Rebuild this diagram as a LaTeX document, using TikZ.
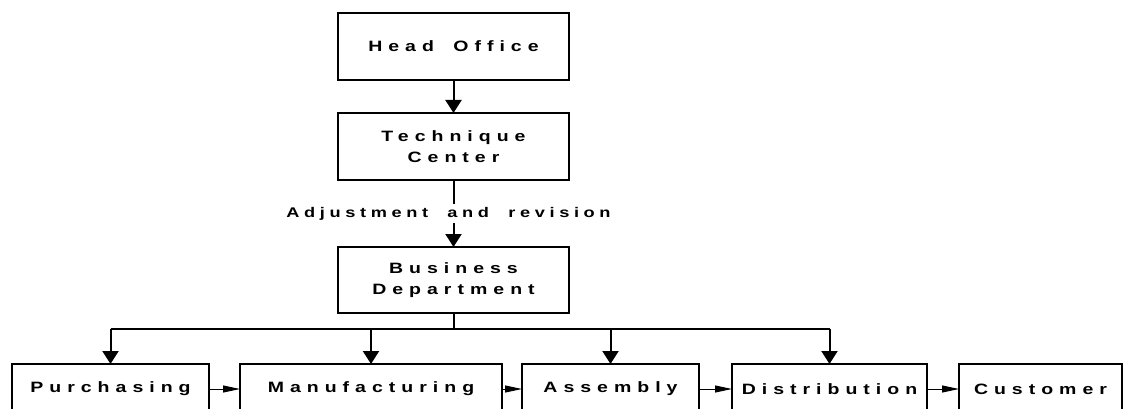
\documentclass[tikz,border=0pt]{standalone}
\usepackage{fontspec}
\setmainfont{Liberation Sans}
\newfontfamily\spfont{Liberation Sans}[FakeStretch=1.3, LetterSpace=40, WordSpace=1.7]
\newfontfamily\lblfont{Liberation Sans}[FakeStretch=1.3, LetterSpace=33, WordSpace=2]
\usetikzlibrary{arrows.meta}
\begin{document}
\begin{tikzpicture}[x=1pt,y=-1pt,
  orgbox/.style={draw, line width=1.5pt, outer sep=0pt, inner sep=0pt,
    minimum width=#1, align=center,
    font=\spfont\bfseries\fontsize{15}{20.5}\selectfont},
  thickside/.style={line width=2.6pt},
  conn/.style={line width=2pt},
  downarrow/.style={conn, -{Triangle[width=16pt,length=13pt]}},
  flowarrow/.style={line width=1pt, -{Triangle[width=7pt,length=17pt]}},
  lbl/.style={fill=white, inner sep=3pt, font=\lblfont\bfseries\fontsize{14}{16}\selectfont}
]
\useasboundingbox (0,0) rectangle (1124,409);
\clip (0,0) rectangle (1124,409);

% top column
\node[orgbox=231pt, minimum height=67pt] (ho) at (453.5,46.5) {Head Office};
\node[orgbox=231pt, minimum height=67pt] (tc) at (453.5,146.5) {Technique\\Center};
\node[orgbox=231pt, minimum height=66pt] (bd) at (453.5,280) {Business\\Department};

% bottom row
\node[orgbox=197pt, minimum height=50pt] (pu) at (110.5,389) {Purchasing};
\node[orgbox=262pt, minimum height=50pt] (ma) at (371,389) {Manufacturing};
\node[orgbox=177pt, minimum height=50pt] (as) at (610.5,389) {Assembly};
\node[orgbox=195pt, minimum height=50pt] (di) at (829.5,389) {Distribution};
\node[orgbox=163pt, minimum height=50pt] (cu) at (1040.5,389) {Customer};

% heavier left, right and bottom sides
\foreach \n in {ho,tc,bd,pu,ma,as,di,cu}{
  \draw[thickside] (\n.north west) -- (\n.south west) -- (\n.south east) -- (\n.north east);
}

% vertical flow
\draw[downarrow] (ho.south) -- (tc.north);
\draw[downarrow] (tc.south) -- node[lbl, xshift=-5pt] {Adjustment and revision} (bd.north);

% distribution bus
\coordinate (bus) at (453.5,329);
\draw[conn] (bd.south) -- (bus);
\draw[conn] (pu.north |- bus) -- (di.north |- bus);
\foreach \n in {pu,ma,as,di}{
  \draw[downarrow] (\n.north |- bus) -- (\n.north);
}

% horizontal flow
\draw[flowarrow] (pu.east) -- (ma.west);
\draw[flowarrow] (ma.east) -- (as.west);
\draw[flowarrow] (as.east) -- (di.west);
\draw[flowarrow] (di.east) -- (cu.west);
\end{tikzpicture}
\end{document}
